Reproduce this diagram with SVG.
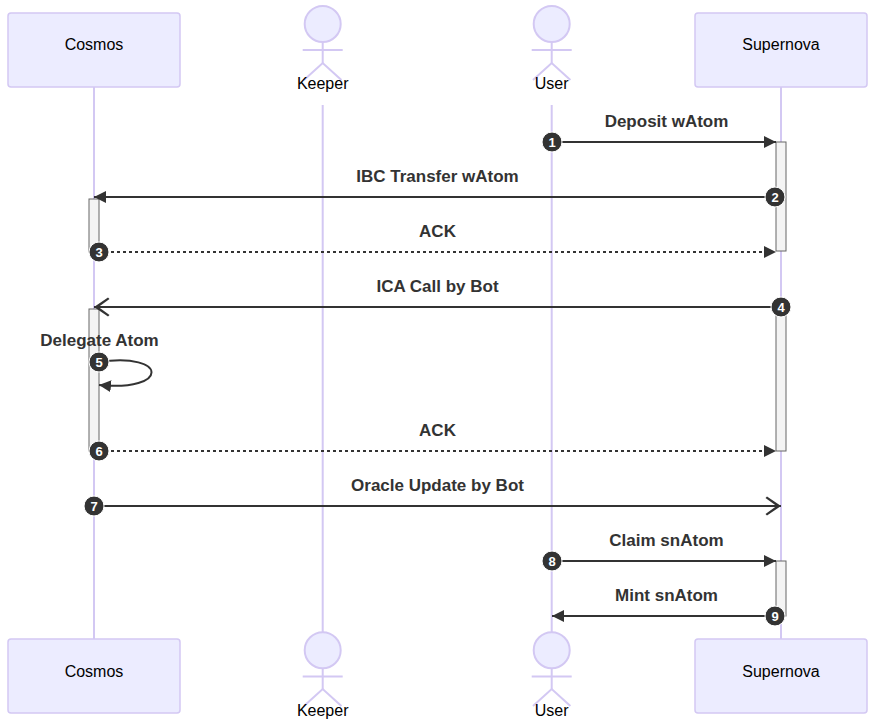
<svg xmlns="http://www.w3.org/2000/svg" width="875" height="725" viewBox="0 0 875 725">
<style>
.box{fill:#ECECFF;stroke:#D3C8F3;stroke-width:1.5}
.life{stroke:#D3C8F3;stroke-width:2;fill:none}
.man{stroke:#D3C8F3;stroke-width:2;fill:none}
.head{fill:#ECECFF;stroke:#D3C8F3;stroke-width:2}
.aname{font-family:"Liberation Sans",Arial,sans-serif;font-size:16px;fill:#000;text-anchor:middle}
.act{fill:#F4F4F4;stroke:#666;stroke-width:1}
.msg{stroke:#333;stroke-width:2;fill:none}
.dash{stroke-dasharray:3,3}
.mtxt{font-family:"Liberation Sans",Arial,sans-serif;font-size:17px;font-weight:bold;fill:#333;text-anchor:middle}
.num{fill:#333;stroke:#fff;stroke-width:1}
.ntxt{font-family:"Liberation Sans",Arial,sans-serif;font-size:13px;font-weight:bold;fill:#fff;text-anchor:middle}
</style>
<defs>
<marker id="fill" markerUnits="userSpaceOnUse" viewBox="0 0 12 12" markerWidth="12" markerHeight="12" refX="12" refY="6" orient="auto">
<path d="M0,0 L12,6 L0,12 z" fill="#333"/>
</marker>
<marker id="open" markerUnits="userSpaceOnUse" viewBox="0 0 16 20" markerWidth="16" markerHeight="20" refX="16" refY="10" orient="auto">
<path d="M16,10 L2,0.5 L0.5,2 L11.5,10 L0.5,18 L2,19.5 z" fill="#333"/>
</marker>
</defs>

<g id="lifelines">
<line class="life" x1="94" y1="87" x2="94" y2="639"/>
<line class="life" x1="322.7" y1="105" x2="322.7" y2="632"/>
<line class="life" x1="551.7" y1="105" x2="551.7" y2="632"/>
<line class="life" x1="781" y1="87" x2="781" y2="639"/>
</g>

<g id="cosmos">
<rect class="box" x="8" y="13" width="172" height="74" rx="3"/>
<text class="aname" x="94" y="50">Cosmos</text>
<rect class="box" x="8" y="639" width="172" height="74" rx="3"/>
<text class="aname" x="94" y="676.5">Cosmos</text>
</g>

<g id="keeper">
<circle class="head" cx="322.7" cy="24" r="18"/>
<line class="man" x1="302.7" y1="50" x2="342.7" y2="50"/>
<line class="man" x1="322.7" y1="42" x2="322.7" y2="63"/>
<path class="man" d="M304,80 L322.7,63 L341.4,80"/>
<text class="aname" x="322.7" y="89">Keeper</text>
<circle class="head" cx="322.7" cy="650.3" r="18"/>
<line class="man" x1="302.7" y1="676.5" x2="342.7" y2="676.5"/>
<line class="man" x1="322.7" y1="668.3" x2="322.7" y2="689"/>
<path class="man" d="M304,706 L322.7,689 L341.4,706"/>
<text class="aname" x="322.7" y="716">Keeper</text>
</g>

<g id="user">
<circle class="head" cx="551.7" cy="24" r="18"/>
<line class="man" x1="531.7" y1="50" x2="571.7" y2="50"/>
<line class="man" x1="551.7" y1="42" x2="551.7" y2="63"/>
<path class="man" d="M533,80 L551.7,63 L570.4,80"/>
<text class="aname" x="551.7" y="89">User</text>
<circle class="head" cx="551.7" cy="650.3" r="18"/>
<line class="man" x1="531.7" y1="676.5" x2="571.7" y2="676.5"/>
<line class="man" x1="551.7" y1="668.3" x2="551.7" y2="689"/>
<path class="man" d="M533,706 L551.7,689 L570.4,706"/>
<text class="aname" x="551.7" y="716">User</text>
</g>

<g id="supernova">
<rect class="box" x="695" y="13" width="172" height="74" rx="3"/>
<text class="aname" x="781" y="50">Supernova</text>
<rect class="box" x="695" y="639" width="172" height="74" rx="3"/>
<text class="aname" x="781" y="676.5">Supernova</text>
</g>

<g id="activations">
<rect class="act" x="776" y="142" width="10" height="109"/>
<rect class="act" x="89" y="199" width="10" height="53"/>
<rect class="act" x="89" y="309" width="10" height="142"/>
<rect class="act" x="776" y="307" width="10" height="144"/>
<rect class="act" x="776" y="561" width="10" height="55"/>
</g>

<g id="connectors">
<text class="mtxt" x="666.5" y="127">Deposit wAtom</text>
<line class="msg" x1="552" y1="142" x2="776" y2="142" marker-end="url(#fill)"/>
<text class="mtxt" x="437.5" y="182">IBC Transfer wAtom</text>
<line class="msg" x1="776" y1="197" x2="94" y2="197" marker-end="url(#fill)"/>
<text class="mtxt" x="437.5" y="237">ACK</text>
<line class="msg dash" x1="99" y1="252" x2="776" y2="252" marker-end="url(#fill)"/>
<text class="mtxt" x="437.5" y="292">ICA Call by Bot</text>
<line class="msg" x1="781" y1="307" x2="94" y2="307" marker-end="url(#open)"/>
<text class="mtxt" x="99.5" y="346">Delegate Atom</text>
<path class="msg" d="M99,362 C169,352 169,392 99,385" marker-end="url(#fill)"/>
<text class="mtxt" x="437.5" y="436">ACK</text>
<line class="msg dash" x1="99" y1="451" x2="776" y2="451" marker-end="url(#fill)"/>
<text class="mtxt" x="437.5" y="491">Oracle Update by Bot</text>
<line class="msg" x1="94" y1="506" x2="781" y2="506" marker-end="url(#open)"/>
<text class="mtxt" x="666.5" y="546">Claim snAtom</text>
<line class="msg" x1="552" y1="561" x2="776" y2="561" marker-end="url(#fill)"/>
<text class="mtxt" x="666.5" y="601">Mint snAtom</text>
<line class="msg" x1="776" y1="616" x2="552" y2="616" marker-end="url(#fill)"/>
</g>

<g id="sequence-numbers">
<circle class="num" cx="552" cy="142" r="10"/><text class="ntxt" x="552" y="146.6">1</text>
<circle class="num" cx="775" cy="197" r="10"/><text class="ntxt" x="775" y="201.6">2</text>
<circle class="num" cx="99" cy="252" r="10"/><text class="ntxt" x="99" y="256.6">3</text>
<circle class="num" cx="781" cy="307" r="10"/><text class="ntxt" x="781" y="311.6">4</text>
<circle class="num" cx="99" cy="362" r="10"/><text class="ntxt" x="99" y="366.6">5</text>
<circle class="num" cx="99" cy="451" r="10"/><text class="ntxt" x="99" y="455.6">6</text>
<circle class="num" cx="94" cy="506" r="10"/><text class="ntxt" x="94" y="510.6">7</text>
<circle class="num" cx="552" cy="561" r="10"/><text class="ntxt" x="552" y="565.6">8</text>
<circle class="num" cx="775" cy="616" r="10"/><text class="ntxt" x="775" y="620.6">9</text>
</g>
</svg>
